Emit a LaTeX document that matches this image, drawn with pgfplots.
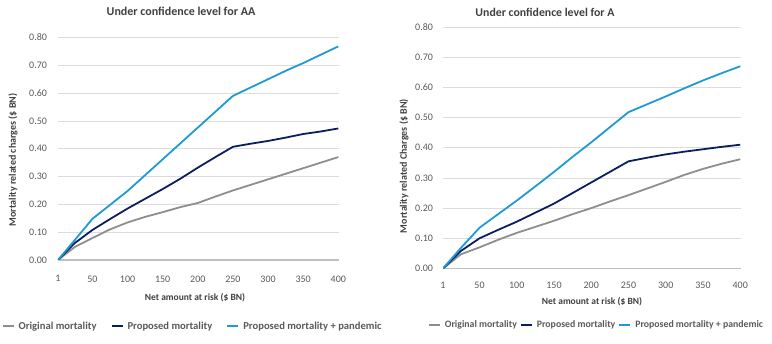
\documentclass[border=0pt]{standalone}
\usepackage{fontspec}
\setmainfont{Carlito}
\usepackage{pgfplots}
\pgfplotsset{compat=1.18}
\definecolor{cgray}{HTML}{8E8E8E}
\definecolor{cnavy}{HTML}{0B1F5E}
\definecolor{cblue}{HTML}{1E9AD6}
\definecolor{tgray}{HTML}{595959}
\definecolor{hgray}{HTML}{404040}
\definecolor{gridc}{HTML}{DCDCDC}
\definecolor{axc}{HTML}{BFBFBF}

\pgfplotsset{mystyle/.style={
  scale only axis,
  xmin=1, xmax=401, ymin=0, ymax=0.8,
  xtick={1,50,100,150,200,250,300,350,400},
  xticklabels={1,50,100,150,200,250,300,350,400},
  ytick={0,0.1,0.2,0.3,0.4,0.5,0.6,0.7,0.8},
  yticklabels={0.00,0.10,0.20,0.30,0.40,0.50,0.60,0.70,0.80},
  major tick length=0pt,
  axis x line*=bottom, axis y line*=left,
  y axis line style={draw=none},
  x axis line style={draw=axc, line width=1.3pt},
  ymajorgrids, grid style={draw=gridc, line width=0.8pt},
  tick label style={font=\fontsize{10}{12}\selectfont, text=tgray},
  xlabel style={font=\bfseries\fontsize{9.5}{11}\selectfont, text=hgray},
  ylabel style={font=\bfseries\fontsize{10}{11}\selectfont, text=hgray},
  legend columns=3,
  legend image code/.code={\draw[#1, line width=2pt] (0pt,0pt) -- (11pt,0pt);},
  legend style={draw=none, fill=none, text=tgray,
    anchor=center, inner sep=0pt,
    /tikz/every odd column/.append style={column sep=2pt}},
  every axis plot/.append style={line width=1.8pt, line join=round},
}}

\pgfplotstableread{
x    orig   prop   pand
1    0.000  0.000  0.000
25   0.047  0.061  0.072
50   0.079  0.108  0.148
75   0.110  0.147  0.198
100  0.135  0.185  0.248
125  0.155  0.220  0.305
150  0.172  0.255  0.362
175  0.190  0.292  0.419
200  0.205  0.332  0.476
225  0.228  0.370  0.533
250  0.250  0.407  0.590
275  0.270  0.418  0.620
300  0.290  0.428  0.650
325  0.310  0.440  0.680
350  0.330  0.453  0.708
375  0.350  0.462  0.738
400  0.370  0.473  0.768
}\dataAA

\pgfplotstableread{
x    orig   prop   pand
1    0.000  0.000  0.000
25   0.047  0.058  0.068
50   0.070  0.100  0.135
75   0.095  0.128  0.180
100  0.118  0.155  0.225
125  0.138  0.185  0.272
150  0.158  0.215  0.320
175  0.180  0.250  0.370
200  0.200  0.285  0.418
225  0.222  0.320  0.468
250  0.243  0.355  0.518
275  0.265  0.367  0.544
300  0.287  0.378  0.570
325  0.310  0.387  0.597
350  0.330  0.395  0.623
375  0.347  0.403  0.647
400  0.362  0.410  0.670
}\dataA

\begin{document}
\begin{tikzpicture}[x=1pt,y=1pt]
\useasboundingbox (0,0) rectangle (772,344);
% left chart
\begin{axis}[mystyle,
  at={(58pt,84pt)}, anchor=south west,
  width=281pt, height=222.5pt,
  xticklabel style={yshift=-12pt},
  yticklabel style={xshift=-7.5pt},
  ylabel={Mortality related charges (\$ BN)},
  ylabel style={at={(axis description cs:-0.16,0.45)}, anchor=center},
  xlabel={Net amount at risk (\$ BN)},
  xlabel style={at={(axis description cs:0.4875,-0.169)}, anchor=center},
  legend style={at={(axis description cs:0.479,-0.297)}, font=\bfseries\fontsize{10.6}{12}\selectfont,
    /tikz/every even column/.append style={column sep=12pt}},
]
\addplot[cgray] table[x=x,y=orig] {\dataAA};
\addlegendentry{Original mortality}
\addplot[cnavy] table[x=x,y=prop] {\dataAA};
\addlegendentry{Proposed mortality}
\addplot[cblue] table[x=x,y=pand] {\dataAA};
\addlegendentry{Proposed mortality + pandemic}
\end{axis}
\node[font=\bfseries\fontsize{12}{14}\selectfont, text=hgray] at (181,333) {Under confidence level for AA};
% right chart
\begin{axis}[mystyle,
  at={(443pt,75.5pt)}, anchor=south west,
  width=298pt, height=241.5pt,
  xticklabel style={yshift=-10pt},
  yticklabel style={xshift=-6.5pt},
  ylabel={Mortality related Charges (\$ BN)},
  ylabel style={at={(axis description cs:-0.131,0.424)}, anchor=center},
  xlabel={Net amount at risk (\$ BN)},
  xlabel style={at={(axis description cs:0.5,-0.139)}, anchor=center},
  legend style={at={(axis description cs:0.515,-0.234)}, font=\bfseries\fontsize{9.8}{12}\selectfont,
    /tikz/every even column/.append style={column sep=1pt}},
]
\addplot[cgray] table[x=x,y=orig] {\dataA};
\addlegendentry{Original mortality}
\addplot[cnavy] table[x=x,y=prop] {\dataA};
\addlegendentry{Proposed mortality}
\addplot[cblue] table[x=x,y=pand] {\dataA};
\addlegendentry{Proposed mortality + pandemic}
\end{axis}
\node[font=\bfseries\fontsize{11.8}{14}\selectfont, text=hgray] at (545,332) {Under confidence level for A};
\end{tikzpicture}
\end{document}
